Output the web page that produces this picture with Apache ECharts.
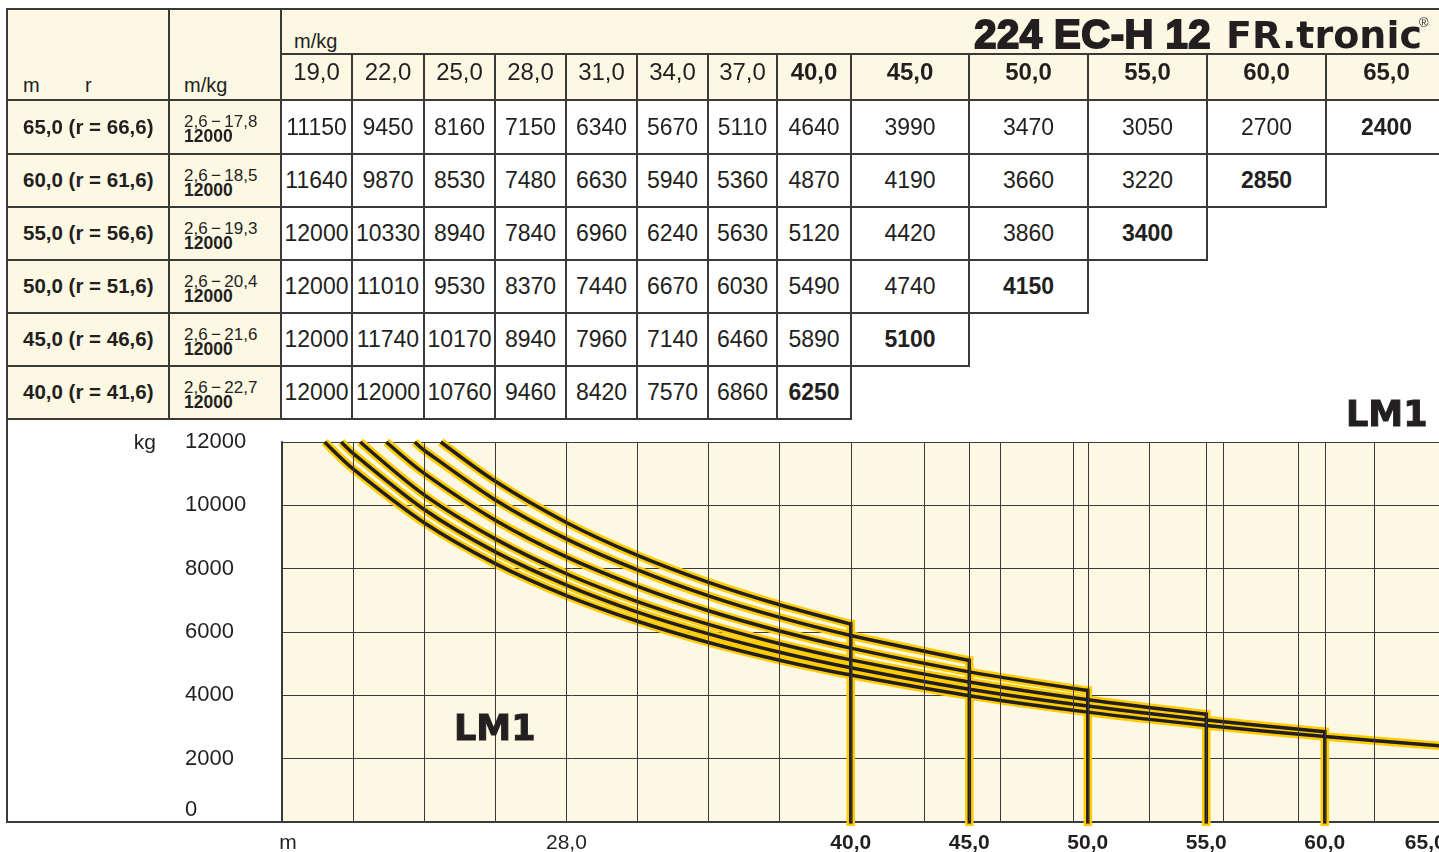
<!DOCTYPE html>
<html lang="de">
<head>
<meta charset="utf-8">
<title>224 EC-H 12 FR.tronic – LM 1</title>
<script src="https://cdn.jsdelivr.net/npm/echarts@6.0.0/dist/echarts.min.js"></script>
<style>
  html, body { margin: 0; padding: 0; background: #fff; }
  body { position: relative; width: 1439px; height: 852px; overflow: hidden;
         font-family: 'Liberation Sans', Arial, sans-serif; color: #231f20; }
  #chart { position: absolute; left: 0; top: 0; width: 1439px; height: 852px; }
  #table { position: absolute; left: 0; top: 0; width: 1439px; height: 852px; pointer-events: none; }
  .cell { position: absolute; box-sizing: border-box; border: 2px solid #3a3a3a; }
  .cream { background: #fcf8e4; }
  .white { background: #fff; }
  .line { position: absolute; background: #3a3a3a; }
  .txt { position: absolute; white-space: nowrap; }
  .heavy { -webkit-text-stroke: 2px #231f20; }
  .logo { -webkit-text-stroke: 1px #231f20; }
</style>
</head>
<body>
<div id="chart"></div>
<div id="table"></div>
<script>
// Tragfähigkeiten je Auslegerlänge (m / kg)
const jibLengths = [65, 60, 55, 50, 45, 40]
const hookRadius = [66.6, 61.6, 56.6, 51.6, 46.6, 41.6]
const maxLoadReach = [17.8, 18.5, 19.3, 20.4, 21.6, 22.7]
const minReach = 2.6
const maxLoad = 12000
const reach = [19, 22, 25, 28, 31, 34, 37, 40, 45, 50, 55, 60, 65]

const load65 = [11150, 9450, 8160, 7150, 6340, 5670, 5110, 4640, 3990, 3470, 3050, 2700, 2400]
const load60 = [11640, 9870, 8530, 7480, 6630, 5940, 5360, 4870, 4190, 3660, 3220, 2850]
const load55 = [12000, 10330, 8940, 7840, 6960, 6240, 5630, 5120, 4420, 3860, 3400]
const load50 = [12000, 11010, 9530, 8370, 7440, 6670, 6030, 5490, 4740, 4150]
const load45 = [12000, 11740, 10170, 8940, 7960, 7140, 6460, 5890, 5100]
const load40 = [12000, 12000, 10760, 9460, 8420, 7570, 6860, 6250]
const loads = [load65, load60, load55, load50, load45, load40]

// Achsen
const xTickLabels = [28, 40, 45, 50, 55, 60, 65]
const gridReach = [19, 22, 25, 28, 31, 34, 37, 40, 43.1, 45, 46.3, 49.4, 50, 52.6, 55, 55.7, 58.9, 60, 62.1]

const fmt = (v) => v.toFixed(1).replace('.', ',')

// ---------- Tabelle ----------
const colEdges = [281, 352, 424, 495, 566, 637, 708, 777, 851, 969, 1088, 1207, 1326, 1447]
const rowEdges = [100, 154, 207, 260, 313, 366, 419]
const table = document.getElementById('table')

const box = (x0, y0, x1, y1, cls) => {
  const d = document.createElement('div')
  d.className = 'cell ' + cls
  d.style.left = x0 - 1 + 'px'
  d.style.top = y0 - 1 + 'px'
  d.style.width = x1 - x0 + 2 + 'px'
  d.style.height = y1 - y0 + 2 + 'px'
  table.appendChild(d)
}

// Text mit Grundlinie bei y
const text = (x, y, str, size, weight, anchor = 'left', cls = '', family) => {
  const s = document.createElement('span')
  s.className = 'txt ' + cls
  s.textContent = str
  s.style.fontSize = size + 'px'
  s.style.lineHeight = size + 'px'
  s.style.fontWeight = weight
  if (family) s.style.fontFamily = family
  s.style.top = y - 0.8465 * size + 'px'
  s.style.left = x + 'px'
  if (anchor === 'center') s.style.transform = 'translateX(-50%)'
  if (anchor === 'right') s.style.transform = 'translateX(-100%)'
  table.appendChild(s)
  return s
}

const line = (x, y, w, h) => {
  const d = document.createElement('div')
  d.className = 'line'
  Object.assign(d.style, { left: x + 'px', top: y + 'px', width: w + 'px', height: h + 'px' })
  table.appendChild(d)
}

box(7, 9, 169, 100, 'cream')
text(23, 92, 'm', 20, 'normal')
text(85, 92, 'r', 20, 'normal')
box(169, 9, 281, 100, 'cream')
text(184, 92, 'm/kg', 20, 'normal')
box(281, 9, 1447, 54, 'cream')
text(294, 48, 'm/kg', 20, 'normal')

reach.forEach((r, j) => {
  box(colEdges[j], 54, colEdges[j + 1], 100, 'cream')
  text((colEdges[j] + colEdges[j + 1]) / 2, 80, fmt(r), 24, r >= 40 ? 'bold' : 'normal', 'center')
})

jibLengths.forEach((jib, k) => {
  const y0 = rowEdges[k]
  const y1 = rowEdges[k + 1]
  const mid = (y0 + y1) / 2
  box(7, y0, 169, y1, 'cream')
  text(23, mid + 7, `${fmt(jib)}  (r = ${fmt(hookRadius[k])})`, 20.5, 'bold')
  box(169, y0, 281, y1, 'cream')
  text(184, y0 + 27, `${fmt(minReach)}\u2009\u2212\u2009${fmt(maxLoadReach[k])}`, 17, 'normal')
  text(184, y0 + 43, String(maxLoad), 17.5, 'bold')
  loads[k].forEach((v, j) => {
    box(colEdges[j], y0, colEdges[j + 1], y1, 'white')
    const last = j === loads[k].length - 1
    text((colEdges[j] + colEdges[j + 1]) / 2, mid + 8, String(v), 23, last ? 'bold' : 'normal', 'center')
  })
})

// Titel
text(1211, 48, '224 EC-H 12', 40, 'bold', 'right', 'heavy').style.letterSpacing = '0.5px'
text(1226, 48, 'FR.tronic', 38, 'bold', 'left', '', "'DejaVu Sans'")
text(1419, 27, '®', 13, 'normal')
text(1346, 427, 'LM1', 35, 'bold', 'left', 'logo', "'DejaVu Sans'")

// Rahmen links / unten
line(6, 9, 2, 814)
line(6, 821, 277, 2)

// ---------- Diagramm ----------
const chart = echarts.init(document.getElementById('chart'))

const series = [
  {
    type: 'line',
    data: [],
    silent: true,
    z: 1,
    markLine: {
      silent: true,
      symbol: 'none',
      animation: false,
      label: { show: false },
      emphasis: { disabled: true },
      lineStyle: { color: '#3a3a3a', width: 1, type: 'solid' },
      data: gridReach.map((v) => ({ xAxis: v })),
    },
  },
]

const bands = [
  { color: '#ffcc00', width: 8.5, z: 2 },
  { color: '#231f20', width: 3.5, z: 3 },
]

jibLengths.forEach((jib, k) => {
  const pts = [[maxLoadReach[k], maxLoad]]
  loads[k].forEach((v, j) => {
    if (reach[j] > maxLoadReach[k]) pts.push([reach[j], v])
  })
  const drop = [[jib, loads[k][loads[k].length - 1]], [jib, 0]]
  bands.forEach((b) => {
    series.push({
      type: 'line',
      data: pts,
      smooth: 0.3,
      showSymbol: false,
      silent: true,
      z: b.z,
      lineStyle: { color: b.color, width: b.width, cap: 'butt', join: 'round' },
    })
    series.push({
      type: 'line',
      data: drop,
      showSymbol: false,
      silent: true,
      z: b.z,
      lineStyle: { color: b.color, width: b.width, cap: 'square' },
    })
  })
})

const labelFont = { fontSize: 21, color: '#231f20', fontFamily: 'Liberation Sans' }

chart.setOption({
  animation: false,
  grid: {
    left: 282,
    top: 442,
    width: 1185,
    height: 380,
    show: true,
    backgroundColor: '#fcf8e4',
    borderWidth: 0,
    containLabel: false,
    outerBoundsMode: 'none',
  },
  xAxis: {
    type: 'value',
    min: 16,
    max: 66,
    axisLine: { show: true, onZero: false, lineStyle: { color: '#3a3a3a', width: 2 } },
    axisTick: { show: false },
    splitLine: { show: false },
    axisLabel: {
      ...labelFont,
      customValues: [16, ...xTickLabels],
      margin: 11,
      formatter: (v) => {
        if (v === 16) return '{m|m}'
        if (v === 65) return '{e|' + fmt(v) + '}'
        return v >= 40 ? '{b|' + fmt(v) + '}' : fmt(v)
      },
      rich: {
        m: { ...labelFont, padding: [0, 0, 0, 12] },
        b: { ...labelFont, fontWeight: 'bold' },
        e: { ...labelFont, fontWeight: 'bold', padding: [0, 36, 0, 0] },
      },
    },
  },
  yAxis: {
    type: 'value',
    min: 0,
    max: 12000,
    interval: 2000,
    axisLine: { show: true, lineStyle: { color: '#3a3a3a', width: 2 } },
    axisTick: { show: false },
    splitLine: { show: true, lineStyle: { color: '#3a3a3a', width: 1 } },
    axisLabel: {
      ...labelFont,
      fontSize: 22,
      align: 'left',
      margin: 97,
      formatter: (v) => (v === 0 ? '{low|0}' : String(v)),
      rich: { low: { ...labelFont, fontSize: 22, padding: [0, 0, 24, 0] } },
    },
  },
  graphic: [
    {
      type: 'text',
      x: 156,
      y: 443,
      style: { text: 'kg', align: 'right', verticalAlign: 'middle', font: '21px "Liberation Sans"', fill: '#231f20' },
    },
    {
      type: 'text',
      x: 454,
      y: 731,
      z: 10,
      style: {
        text: 'LM1',
        verticalAlign: 'middle',
        font: 'bold 35px "DejaVu Sans"',
        fill: '#231f20',
        stroke: '#231f20',
        lineWidth: 1,
      },
    },
  ],
  series,
})
</script>
</body>
</html>
